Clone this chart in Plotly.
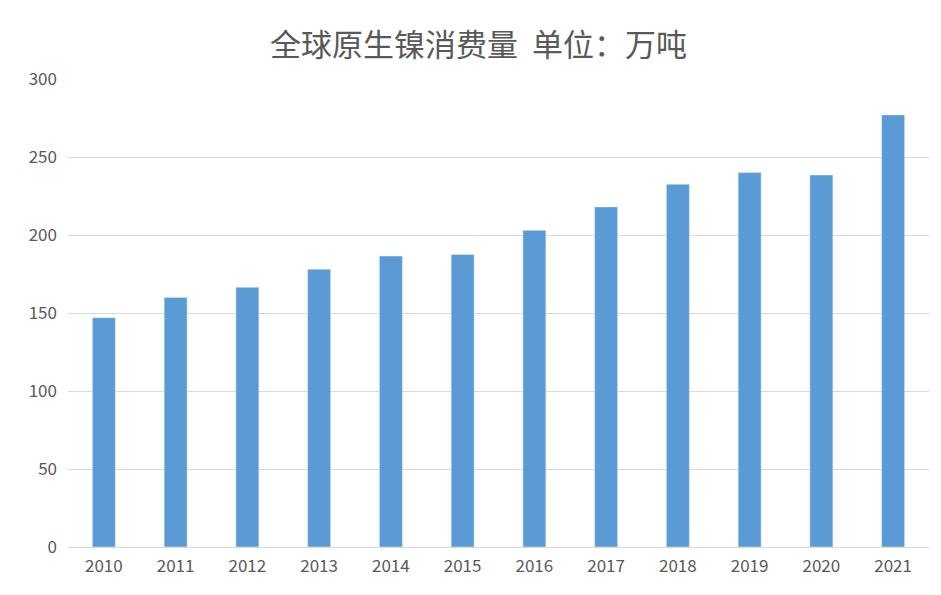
import plotly.graph_objects as go

years = ["2010","2011","2012","2013","2014","2015","2016","2017","2018","2019","2020","2021"]
values = [147, 160, 166.5, 178, 186.5, 187.5, 203, 218, 232.5, 240, 238.5, 277]

fig = go.Figure(go.Bar(x=years, y=values, marker_color="#5B9BD5"))
fig.update_layout(
    width=941, height=595,
    paper_bgcolor="white", plot_bgcolor="white",
    margin=dict(l=60, r=20, t=71, b=56, autoexpand=False),
    title=dict(text="全球原生镍消费量  单位：万吨", x=0.5, xanchor="center", y=0.955,
               font=dict(size=31, color="#595959", family="Noto Sans CJK SC")),
    bargap=0.68, showlegend=False,
    font=dict(family="Noto Sans CJK SC", color="#595959", size=17),
)
fig.update_yaxes(range=[0, 300], dtick=50, gridcolor="#D9D9D9", zeroline=False,
                 showline=False, ticks="", ticklabelstandoff=10)
fig.update_xaxes(showline=True, linecolor="#D9D9D9", ticks="", ticklabelstandoff=4)
fig.write_html("out.html")
